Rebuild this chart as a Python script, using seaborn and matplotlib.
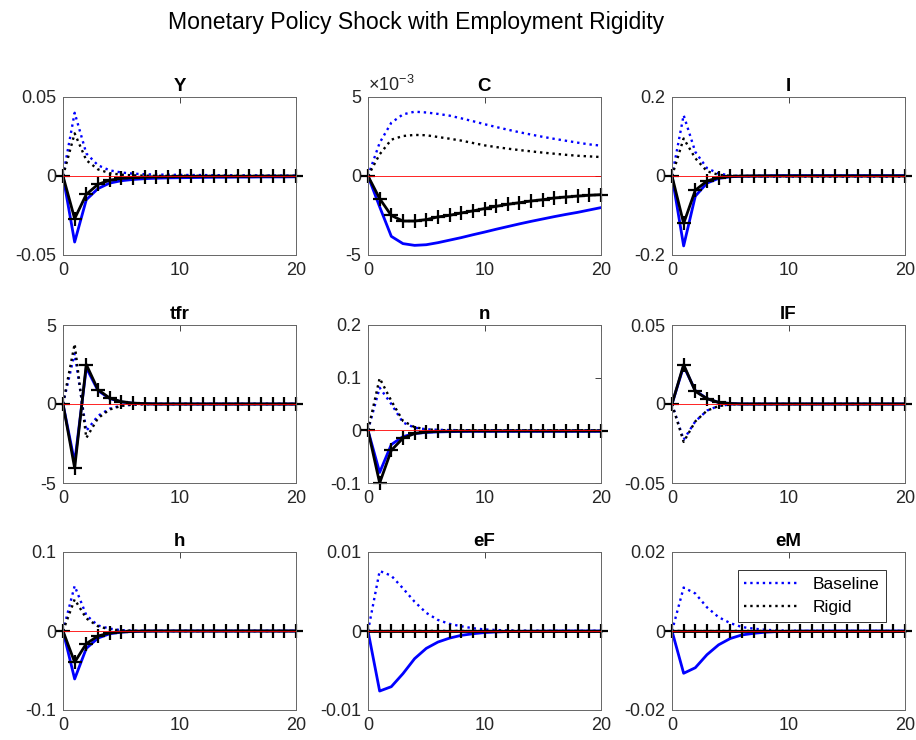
import numpy as np
import pandas as pd
import matplotlib
matplotlib.use("Agg")
import matplotlib.pyplot as plt
import seaborn as sns

sns.set_style("white")
plt.rcParams["font.family"] = ["Liberation Sans", "DejaVu Sans"]
plt.rcParams["axes.unicode_minus"] = False
plt.rcParams["mathtext.fontset"] = "custom"
plt.rcParams["mathtext.rm"] = "Liberation Sans"
plt.rcParams["mathtext.it"] = "Liberation Sans:italic"

# ---------------- data ----------------
horizon = list(range(21))
series_names = ["Baseline", "Rigid"]
panel_titles = ["Y", "C", "I", "tfr", "n", "lF", "h", "eF", "eM"]
fig_title = "Monetary Policy Shock with Employment Rigidity"

Y_base_up = [0, 0.040, 0.0143, 0.0068, 0.0036, 0.0022, 0.0015, 0.0011, 0.0009, 0.0008, 0.0007,
             0.0006, 0.0006, 0.0005, 0.0005, 0.0004, 0.0004, 0.0004, 0.0003, 0.0003, 0.0003]
Y_rigid_up = [0, 0.027, 0.010, 0.0042, 0.0018, 0.0008, 0.0004, 0.0002, 0.0001, 0.0001, 0.0001,
              0.0001, 0, 0, 0, 0, 0, 0, 0, 0, 0]
Y_base_dn = [0, -0.0418, -0.015, -0.008, -0.0045, -0.003, -0.0022, -0.0017, -0.0014, -0.0012, -0.0011,
             -0.0010, -0.0009, -0.0008, -0.0008, -0.0007, -0.0007, -0.0006, -0.0006, -0.0006, -0.0005]
Y_rigid_dn = [0, -0.027, -0.0116, -0.0053, -0.0027, -0.0015, -0.0010, -0.0007, -0.0005, -0.0004, -0.0003,
              -0.0003, -0.0002, -0.0002, -0.0002, -0.0002, -0.0002, -0.0001, -0.0001, -0.0001, -0.0001]

C_base_up = [0, 2.1e-3, 3.37e-3, 3.9e-3, 4.07e-3, 4.02e-3, 3.93e-3, 3.82e-3, 3.65e-3, 3.47e-3, 3.28e-3,
             3.10e-3, 2.93e-3, 2.77e-3, 2.62e-3, 2.48e-3, 2.35e-3, 2.23e-3, 2.11e-3, 2.0e-3, 1.92e-3]
C_rigid_up = [0, 1.37e-3, 2.3e-3, 2.53e-3, 2.6e-3, 2.58e-3, 2.47e-3, 2.36e-3, 2.24e-3, 2.09e-3, 1.94e-3,
              1.83e-3, 1.73e-3, 1.64e-3, 1.56e-3, 1.48e-3, 1.41e-3, 1.34e-3, 1.28e-3, 1.24e-3, 1.2e-3]
C_base_dn = [0, -1.95e-3, -3.82e-3, -4.28e-3, -4.39e-3, -4.35e-3, -4.22e-3, -4.06e-3, -3.9e-3, -3.72e-3, -3.55e-3,
             -3.37e-3, -3.2e-3, -3.03e-3, -2.87e-3, -2.72e-3, -2.57e-3, -2.43e-3, -2.3e-3, -2.15e-3, -2.0e-3]
C_rigid_dn = [0, -1.43e-3, -2.5e-3, -2.85e-3, -2.85e-3, -2.76e-3, -2.59e-3, -2.49e-3, -2.34e-3, -2.21e-3, -2.06e-3,
              -1.92e-3, -1.79e-3, -1.69e-3, -1.58e-3, -1.50e-3, -1.39e-3, -1.33e-3, -1.27e-3, -1.22e-3, -1.18e-3]

I_base_up = [0, 0.154, 0.061, 0.020, 0.006, 0.0015, -0.0005, -0.001, -0.0015, -0.0015, -0.0015,
             -0.0015, -0.0015, -0.0015, -0.0015, -0.0015, -0.0015, -0.0015, -0.0015, -0.0015, -0.0015]
I_rigid_up = [0, 0.095, 0.045, 0.012, 0.003, 0.0005, 0, 0, 0, 0, 0, 0, 0, 0, 0, 0, 0, 0, 0, 0, 0]
I_base_dn = [0, -0.177, -0.051, -0.018, -0.006, -0.002, -0.0005, 0, 0.0005, 0.001, 0.001,
             0.001, 0.001, 0.001, 0.001, 0.001, 0.001, 0.001, 0.001, 0.001, 0.001]
I_rigid_dn = [0, -0.120, -0.036, -0.0127, -0.004, -0.0012, -0.0003, 0, 0, 0, 0, 0, 0, 0, 0, 0, 0, 0, 0, 0, 0]

tfr_base_up = [0, 3.2, -1.7, -0.75, -0.3, -0.1, -0.04, -0.01, 0, 0, 0, 0, 0, 0, 0, 0, 0, 0, 0, 0, 0]
tfr_rigid_up = [0, 3.8, -2.15, -0.9, -0.35, -0.12, -0.04, -0.01, 0, 0, 0, 0, 0, 0, 0, 0, 0, 0, 0, 0, 0]
tfr_base_dn = [0, -3.7, 2.3, 0.85, 0.35, 0.13, 0.05, 0.02, 0, 0, 0, 0, 0, 0, 0, 0, 0, 0, 0, 0, 0]
tfr_rigid_dn = [0, -4.05, 2.5, 0.91, 0.38, 0.15, 0.05, 0.02, 0, 0, 0, 0, 0, 0, 0, 0, 0, 0, 0, 0, 0]

n_base_up = [0, 0.081, 0.050, 0.015, 0.005, 0.002, 0.001, 0.0005, 0.0003, 0.0002, 0.0001,
             0.0001, 0, 0, 0, 0, 0, 0, 0, 0, 0]
n_rigid_up = [0, 0.099, 0.056, 0.018, 0.006, 0.002, 0.0005, 0, 0, 0, 0, 0, 0, 0, 0, 0, 0, 0, 0, 0, 0]
n_base_dn = [0, -0.080, -0.027, -0.012, -0.006, -0.004, -0.003, -0.0025, -0.0022, -0.002, -0.002,
             -0.002, -0.002, -0.002, -0.002, -0.002, -0.002, -0.002, -0.002, -0.002, -0.002]
n_rigid_dn = [0, -0.100, -0.038, -0.015, -0.006, -0.003, -0.002, -0.0015, -0.0012, -0.001, -0.001,
              -0.001, -0.001, -0.001, -0.001, -0.001, -0.001, -0.001, -0.001, -0.001, -0.001]

lF_base_up = [0, -0.0226, -0.011, -0.0042, -0.0012, -0.0003, 0, 0, 0, 0, 0, 0, 0, 0, 0, 0, 0, 0, 0, 0, 0]
lF_rigid_up = [0, -0.024, -0.011, -0.0042, -0.0013, -0.0004, 0, 0, 0, 0, 0, 0, 0, 0, 0, 0, 0, 0, 0, 0, 0]
lF_base_dn = [0, 0.024, 0.0085, 0.0034, 0.001, 0.0003, 0, 0, 0, 0, 0, 0, 0, 0, 0, 0, 0, 0, 0, 0, 0]
lF_rigid_dn = [0, 0.0249, 0.008, 0.0034, 0.001, 0.0003, 0, 0, 0, 0, 0, 0, 0, 0, 0, 0, 0, 0, 0, 0, 0]

h_base_up = [0, 0.057, 0.020, 0.007, 0.003, 0.001, 0.0005, 0.0002, 0, 0, 0, 0, 0, 0, 0, 0, 0, 0, 0, 0, 0]
h_rigid_up = [0, 0.040, 0.016, 0.006, 0.002, 0.0008, 0.0003, 0.0001, 0, 0, 0, 0, 0, 0, 0, 0, 0, 0, 0, 0, 0]
h_base_dn = [0, -0.0607, -0.022, -0.009, -0.0035, -0.0015, -0.0006, -0.0002, 0, 0, 0, 0, 0, 0, 0, 0, 0, 0, 0, 0, 0]
h_rigid_dn = [0, -0.0395, -0.016, -0.0064, -0.0025, -0.001, -0.0004, -0.0001, 0, 0, 0, 0, 0, 0, 0, 0, 0, 0, 0, 0, 0]

eF_base_up = [0, 0.0076, 0.0070, 0.0054, 0.0037, 0.0023, 0.0014, 0.0009, 0.0006, 0.00035, 0.0002,
              0.00012, 0.00007, 0.00004, 0.00002, 0.00001, 0, 0, 0, 0, 0]
eF_rigid_up = [0] * 21
eF_base_dn = [0, -0.0076, -0.00705, -0.0054, -0.0035, -0.0022, -0.0014, -0.0009, -0.00055, -0.00035, -0.0002,
              -0.00012, -0.00007, -0.00004, -0.00002, -0.00001, 0, 0, 0, 0, 0]
eF_rigid_dn = [0] * 21

eM_base_up = [0, 0.011, 0.0095, 0.006, 0.0035, 0.002, 0.001, 0.0006, 0.0003, 0.00015, 0.00008,
              0.00004, 0.00002, 0.00001, 0, 0, 0, 0, 0, 0, 0]
eM_rigid_up = [0] * 21
eM_base_dn = [0, -0.0107, -0.0093, -0.006, -0.0035, -0.0019, -0.001, -0.0006, -0.0003, -0.00015, -0.00008,
              -0.00004, -0.00002, -0.00001, 0, 0, 0, 0, 0, 0, 0]
eM_rigid_dn = [0] * 21

y_limits = [(-0.05, 0.05), (-5e-3, 5e-3), (-0.2, 0.2), (-5, 5), (-0.1, 0.2),
            (-0.05, 0.05), (-0.1, 0.1), (-0.01, 0.01), (-0.02, 0.02)]
y_ticks = [[-0.05, 0, 0.05], [-5e-3, 0, 5e-3], [-0.2, 0, 0.2], [-5, 0, 5], [-0.1, 0, 0.1, 0.2],
           [-0.05, 0, 0.05], [-0.1, 0, 0.1], [-0.01, 0, 0.01], [-0.02, 0, 0.02]]
y_ticklabels = [["-0.05", "0", "0.05"], ["-5", "0", "5"], ["-0.2", "0", "0.2"], ["-5", "0", "5"],
                ["-0.1", "0", "0.1", "0.2"], ["-0.05", "0", "0.05"], ["-0.1", "0", "0.1"],
                ["-0.01", "0", "0.01"], ["-0.02", "0", "0.02"]]
x_ticks = [0, 10, 20]

panel_data = [
    (Y_base_up, Y_rigid_up, Y_base_dn, Y_rigid_dn),
    (C_base_up, C_rigid_up, C_base_dn, C_rigid_dn),
    (I_base_up, I_rigid_up, I_base_dn, I_rigid_dn),
    (tfr_base_up, tfr_rigid_up, tfr_base_dn, tfr_rigid_dn),
    (n_base_up, n_rigid_up, n_base_dn, n_rigid_dn),
    (lF_base_up, lF_rigid_up, lF_base_dn, lF_rigid_dn),
    (h_base_up, h_rigid_up, h_base_dn, h_rigid_dn),
    (eF_base_up, eF_rigid_up, eF_base_dn, eF_rigid_dn),
    (eM_base_up, eM_rigid_up, eM_base_dn, eM_rigid_dn),
]

# ---------------- layout ----------------
W, H = 916, 740
fig = plt.figure(figsize=(W / 100, H / 100), dpi=100)
col_px = [(63, 296), (368, 601), (672, 905)]
row_px = [(97, 255), (325, 483), (552, 710)]

blue = "#0000ff"
tick_col = "#262626"

axes = []
for i, title in enumerate(panel_titles):
    r, c = divmod(i, 3)
    x0, x1 = col_px[c]
    y0, y1 = row_px[r]
    ax = fig.add_axes([x0 / W, 1 - y1 / H, (x1 - x0) / W, (y1 - y0) / H])
    axes.append(ax)
    bu, ru, bd, rd = panel_data[i]
    df = pd.DataFrame({"t": horizon, "bu": bu, "ru": ru, "bd": bd, "rd": rd,
                       "zero": [0.0] * len(horizon)})
    sns.lineplot(data=df, x="t", y="bu", ax=ax, color=blue, linestyle=":", lw=1.7,
                 label=series_names[0], legend=False)
    sns.lineplot(data=df, x="t", y="ru", ax=ax, color="black", linestyle=":", lw=1.7,
                 label=series_names[1], legend=False)
    sns.lineplot(data=df, x="t", y="bd", ax=ax, color=blue, linestyle="-", lw=2.0, legend=False)
    sns.lineplot(data=df, x="t", y="rd", ax=ax, color="black", linestyle="-", lw=2.0,
                 marker="+", markersize=10, markeredgewidth=1.6, markeredgecolor="black",
                 legend=False, clip_on=False)
    sns.lineplot(data=df, x="t", y="zero", ax=ax, color="red", lw=0.6, legend=False, zorder=5)

    ax.set_xlim(0, 20)
    ax.set_ylim(*y_limits[i])
    ax.set_xticks(x_ticks)
    ax.set_xticklabels([str(v) for v in x_ticks])
    ax.set_yticks(y_ticks[i])
    ax.set_yticklabels(y_ticklabels[i])
    ax.set_xlabel("")
    ax.set_ylabel("")
    ax.set_title(title, fontsize=13.5, fontweight="bold", pad=4, color="black")
    ax.tick_params(direction="in", length=4, width=0.6, top=True, right=True,
                   labelsize=13, colors=tick_col, pad=5)
    for s in ax.spines.values():
        s.set_color("#666666")
        s.set_linewidth(0.7)
    ax.set_facecolor("white")

# offset text for C
axes[1].text(0.0, 1.012, r"$\times$10$^{\mathregular{-3}}$", transform=axes[1].transAxes,
             fontsize=13, color=tick_col, ha="left", va="bottom")

# legend in last panel
lax = axes[8]
leg = lax.legend(handles=lax.lines[:2], labels=series_names, loc="upper right",
                 bbox_to_anchor=(0.918, 0.886), fontsize=12.5, frameon=True, fancybox=False,
                 framealpha=1, edgecolor="#333333", handlelength=3.1, borderpad=0.4,
                 labelspacing=0.45, borderaxespad=0)
leg.get_frame().set_linewidth(0.7)
for t in leg.get_texts():
    t.set_color("black")

fig.text(416 / W, 1 - 22 / H, fig_title, ha="center", va="center", fontsize=16.6, color="black")

fig.savefig("out.png", dpi=100, facecolor="white")
